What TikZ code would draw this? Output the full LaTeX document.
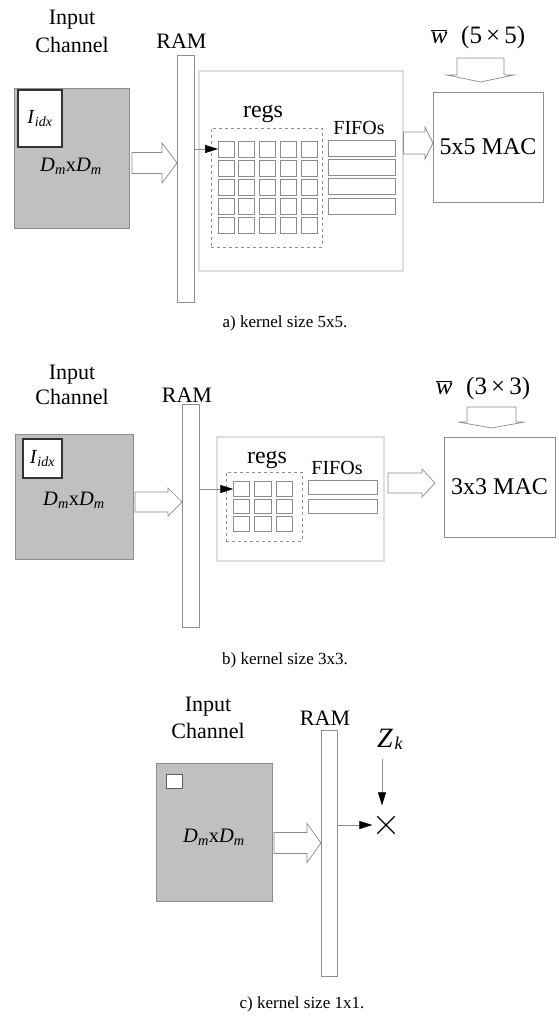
\documentclass[tikz,border=0pt]{standalone}
\usepackage{fontspec}
\setmainfont{Liberation Serif}
\usetikzlibrary{calc,arrows.meta,shapes.misc}
\definecolor{boxgray}{HTML}{C0C0C0}
\definecolor{edgegray}{HTML}{8C8C8C}
\definecolor{lightedge}{HTML}{DEDEDE}
\definecolor{darkedge}{HTML}{333333}
% horizontal block arrow: #1 start, #2 tip, #3 body half width, #4 head half width, #5 head length
\newcommand\hblockarrow[5]{%
  \path[blockarrow] let \p1=(#1), \p2=(#2) in
   (\x1,{\y1+#3}) -- ({\x2-#5},{\y1+#3}) -- ({\x2-#5},{\y1+#4}) -- (\x2,\y1)
   -- ({\x2-#5},{\y1-#4}) -- ({\x2-#5},{\y1-#3}) -- (\x1,{\y1-#3}) -- cycle;}
% downward block arrow: #1 top, #2 tip
\newcommand\vblockarrow[5]{%
  \path[blockarrow] let \p1=(#1), \p2=(#2) in
   ({\x1-#3},\y1) -- ({\x1-#3},{\y2+#5}) -- ({\x1-#4},{\y2+#5}) -- (\x1,\y2)
   -- ({\x1+#4},{\y2+#5}) -- ({\x1+#3},{\y2+#5}) -- ({\x1+#3},\y1) -- cycle;}
\tikzset{
  rect/.style={rectangle, inner sep=0pt, outer sep=0pt},
  chan/.style={rect, fill=boxgray, draw=edgegray, line width=0.8pt},
  idx/.style={rect, fill=white, draw=darkedge, line width=1.3pt, font=\fontsize{20}{20}\selectfont},
  ramstyle/.style={rect, fill=white, draw=edgegray, line width=0.8pt},
  bigbox/.style={rect, draw=lightedge, line width=1.8pt},
  dashbox/.style={rect, draw=edgegray, line width=0.6pt, dash pattern=on 3pt off 3pt},
  cell/.style={rect, draw=edgegray, line width=0.8pt},
  mac/.style={rect, draw=edgegray, line width=0.8pt, font=\fontsize{24}{24}\selectfont},
  txt/.style={inner sep=0pt, align=center},
  dmtxt/.style={inner sep=0pt, font=\fontsize{20.5}{20.5}\selectfont},
  blockarrow/.style={draw=edgegray, fill=white, line width=0.7pt, line join=miter},
  sig/.style={draw=edgegray, line width=0.6pt, -{Triangle[length=13pt,width=8pt,color=black,fill=black]}},
  caption/.style={inner sep=0pt, font=\fontsize{17}{20}\selectfont},
}
\newcommand\DmD{\textit{D}\textsubscript{\textit{m}}x\textit{D}\textsubscript{\textit{m}}}
\newcommand\Iidx{\textit{I}\textsubscript{\textit{idx}}}
\begin{document}
\begin{tikzpicture}[x=1pt,y=-1pt]
\fill[white] (0,0) rectangle (558,1016);
\useasboundingbox (0,0) rectangle (558,1016);

% ================= panel a =================
\node[txt, anchor=north, font=\fontsize{22}{28}\selectfont] (inA) at (72,10) {Input\\Channel};
\node[txt, anchor=base, font=\fontsize{22}{22}\selectfont] (ramlabA) at (181.5,49) {RAM};
\node[chan, minimum width=115pt, minimum height=140pt] (grayA) at (71.5,158) {};
\node[idx, minimum width=44pt, minimum height=57pt] (idxA) at (40,118.5) {\Iidx};
\node[dmtxt] (dmA) at (71,166) {\DmD};
\node[ramstyle, minimum width=17pt, minimum height=247pt] (ramA) at (185.5,178.5) {};
\coordinate (aIn) at (132,163);
\hblockarrow{aIn}{ramA.west |- aIn}{10.5pt}{20pt}{15pt}
\node[bigbox, minimum width=204pt, minimum height=200pt] (bigA) at (301,171) {};
\node[txt, anchor=base, font=\fontsize{24}{24}\selectfont] (regsA) at (263,118) {regs};
\node[dashbox, minimum width=111pt, minimum height=119pt] (dashA) at (266.5,187.5) {};
\foreach \i in {0,...,4}
  \foreach \j in {0,...,4}
    \node[cell, minimum width=16pt, minimum height=16pt] (ca\i\j) at ({226+20.8*\i},{149+19.2*\j}) {};
\node[txt, anchor=base, font=\fontsize{20}{20}\selectfont] (fifolabA) at (359,135) {FIFOs};
\foreach \j in {0,...,3}
  \node[cell, minimum width=67pt, minimum height=16pt] (fa\j) at (361.5,{148+19.4*\j}) {};
\draw[sig] (ramA.east |- ca00.west) -- (ca00.west);
\node[mac, minimum width=110pt, minimum height=110pt] (macA) at (488,147) {5x5 MAC};
\coordinate (aOut) at (403.5,143);
\hblockarrow{aOut}{macA.west |- aOut}{11pt}{16pt}{8pt}
\node[txt, font=\fontsize{25}{25}\selectfont] (wA) at (478,37) {$\overline{\mbox{\textit{w}}}$\hspace{0.55em}(5\,×\,5)};
\coordinate (wAtop) at (480.5,58);
\coordinate (wAtip) at (480.5,82);
\vblockarrow{wAtop}{wAtip}{23.5pt}{33.5pt}{7pt}
\node[caption] (capA) at (285,323) {a) kernel size 5x5.};

% ================= panel b =================
\node[txt, anchor=north, font=\fontsize{22}{25}\selectfont] (inB) at (72,365) {Input\\Channel};
\node[txt, anchor=base, font=\fontsize{22}{22}\selectfont] (ramlabB) at (187,402) {RAM};
\node[chan, minimum width=118pt, minimum height=125pt] (grayB) at (74,496.5) {};
\node[idx, minimum width=39pt, minimum height=39pt] (idxB) at (42.5,458.5) {\Iidx};
\node[dmtxt] (dmB) at (74,500) {\DmD};
\node[ramstyle, minimum width=17pt, minimum height=223pt] (ramB) at (190.5,515.5) {};
\coordinate (bIn) at (135,502);
\hblockarrow{bIn}{ramB.west |- bIn}{10pt}{14pt}{14pt}
\node[bigbox, minimum width=167pt, minimum height=124pt] (bigB) at (300.5,499) {};
\node[txt, anchor=base, font=\fontsize{24}{24}\selectfont] (regsB) at (267,463) {regs};
\node[dashbox, minimum width=76pt, minimum height=69pt] (dashB) at (264,506.5) {};
\foreach \i in {0,...,2}
  \foreach \j in {0,...,2}
    \node[cell, minimum width=16.5pt, minimum height=14.5pt] (cb\i\j) at ({241.5+21.5*\i},{489+17.5*\j}) {};
\node[txt, anchor=base, font=\fontsize{20}{20}\selectfont] (fifolabB) at (337,474) {FIFOs};
\foreach \j in {0,...,1}
  \node[cell, minimum width=69pt, minimum height=14pt] (fb\j) at (342.5,{487+19*\j}) {};
\draw[sig] (ramB.east |- cb00.west) -- (cb00.west);
\node[mac, minimum width=111pt, minimum height=100pt] (macB) at (499.5,487) {3x3 MAC};
\coordinate (bOut) at (388,483);
\coordinate (bTip) at (435,483);
\hblockarrow{bOut}{bTip}{10pt}{14pt}{13pt}
\node[txt, font=\fontsize{25}{25}\selectfont] (wB) at (483,388) {$\overline{\mbox{\textit{w}}}$\hspace{0.55em}(3\,×\,3)};
\coordinate (wBtop) at (491.5,407);
\coordinate (wBtip) at (491.5,428);
\vblockarrow{wBtop}{wBtip}{24.5pt}{33.5pt}{6pt}
\node[caption] (capB) at (285,660) {b) kernel size 3x3.};

% ================= panel c =================
\node[txt, anchor=north, font=\fontsize{22}{27}\selectfont] (inC) at (208,697) {Input\\Channel};
\node[txt, anchor=base, font=\fontsize{22}{22}\selectfont] (ramlabC) at (325,725) {RAM};
\node[chan, minimum width=116pt, minimum height=138pt] (grayC) at (214,832) {};
\node[rect, fill=white, draw=darkedge!80, line width=0.8pt, minimum width=16pt, minimum height=14pt] (idxC) at (174,781) {};
\node[dmtxt] (dmC) at (214,837) {\DmD};
\node[ramstyle, minimum width=16pt, minimum height=246pt] (ramC) at (329,853) {};
\coordinate (cIn) at (274,843);
\hblockarrow{cIn}{ramC.west |- cIn}{10.5pt}{19.5pt}{14pt}
\node[cross out, draw=black, line width=1.3pt, minimum size=16pt, inner sep=0pt] (mulC) at (386,825) {};
\node[inner sep=0pt, anchor=base west] (zC) at (377,747)
  {\fontsize{28}{28}\selectfont\textit{Z}\hspace{1.5pt}\raisebox{-2.5pt}{\fontsize{18}{18}\selectfont\textit{k}}};
\coordinate (zkTop) at (382,759);
\draw[sig, shorten >=11pt] (zkTop) -- (zkTop |- mulC.north);
\draw[sig, shorten >=5pt] (ramC.east |- mulC) -- (mulC.west);
\node[caption] (capC) at (302,1004) {c) kernel size 1x1.};
\end{tikzpicture}
\end{document}
